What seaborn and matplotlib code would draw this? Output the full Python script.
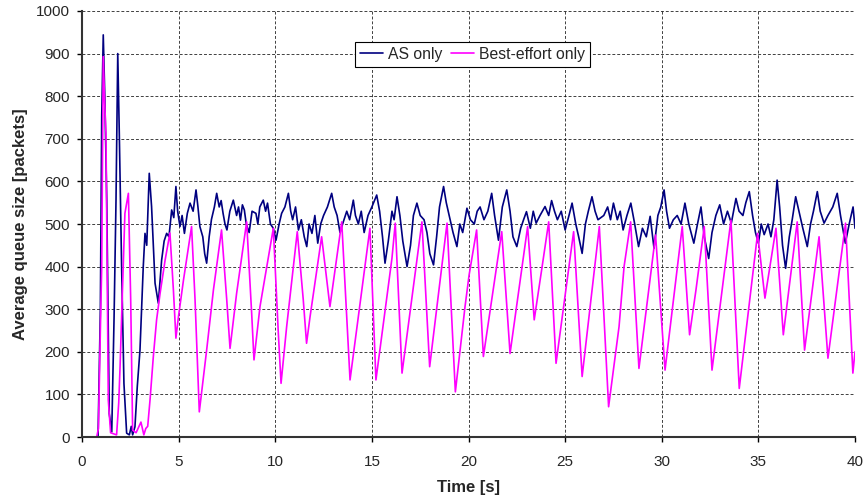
import numpy as np
import pandas as pd
import seaborn as sns
import matplotlib.pyplot as plt

# ---- data ----
as_time = [0.83, 0.95, 1.02, 1.10, 1.18, 1.28, 1.41, 1.54, 1.66, 1.76, 1.85, 1.93, 2.05,
           2.17, 2.31, 2.45, 2.55, 2.62, 2.74, 2.86, 3.0, 3.17, 3.26, 3.35, 3.48, 3.6, 3.78,
           3.95, 4.12, 4.25, 4.38, 4.5, 4.64, 4.75, 4.86, 4.95, 5.07, 5.18, 5.3, 5.45, 5.59,
           5.75, 5.90, 6.0, 6.1, 6.25, 6.35, 6.45, 6.58, 6.7, 6.85, 6.97, 7.1, 7.2, 7.3,
           7.4, 7.5, 7.65, 7.83, 8.0, 8.1, 8.2, 8.3, 8.4, 8.5, 8.65, 8.8, 9.0, 9.1,
           9.2, 9.38, 9.5, 9.6, 9.75, 9.9, 10.04, 10.2, 10.33, 10.5, 10.68, 10.8, 10.9, 11.05,
           11.2, 11.35, 11.5, 11.63, 11.75, 11.9, 12.05, 12.2, 12.35, 12.5, 12.7, 12.92, 13.05,
           13.2, 13.35, 13.5, 13.7, 13.85, 14.04, 14.15, 14.3, 14.45, 14.6, 14.8, 15.0, 15.25,
           15.4, 15.55, 15.68, 15.85, 16.04, 16.15, 16.30, 16.45, 16.6, 16.82, 17.0, 17.15,
           17.33, 17.5, 17.7, 17.85, 18.0, 18.19, 18.35, 18.5, 18.71, 18.85, 19.0, 19.2,
           19.40, 19.55, 19.7, 19.92, 20.1, 20.3, 20.45, 20.6, 20.8, 21.0, 21.2, 21.35,
           21.55, 21.75, 21.98, 22.15, 22.3, 22.50, 22.7, 22.85, 23.0, 23.2, 23.35, 23.5,
           23.7, 23.96, 24.15, 24.3, 24.45, 24.6, 24.8, 25.0, 25.2, 25.36, 25.55, 25.7,
           25.88, 26.05, 26.2, 26.39, 26.55, 26.7, 27.0, 27.2, 27.35, 27.5, 27.7, 27.85,
           28.0, 28.2, 28.4, 28.6, 28.8, 29.0, 29.2, 29.4, 29.6, 29.8, 29.95, 30.12,
           30.25, 30.4, 30.6, 30.8, 31.0, 31.2, 31.4, 31.66, 31.85, 32.03, 32.2, 32.43,
           32.6, 32.8, 33.0, 33.2, 33.4, 33.6, 33.84, 34.0, 34.2, 34.35, 34.53, 34.7,
           34.85, 35.0, 35.15, 35.3, 35.5, 35.65, 35.8, 35.97, 36.1, 36.25, 36.41, 36.6,
           36.75, 36.93, 37.1, 37.3, 37.53, 37.7, 37.85, 38.05, 38.2, 38.4, 38.6, 38.85,
           39.08, 39.25, 39.5, 39.7, 39.9, 40.0]
as_queue = [0, 300, 752, 944, 800, 556, 55, 12, 282, 556, 900, 713, 400,
            126, 9, 5, 25, 5, 24, 118, 204, 400, 478, 450, 619, 541, 361,
            314, 415, 460, 478, 470, 533, 515, 588, 530, 494, 520, 478, 525, 549,
            530, 580, 540, 494, 470, 430, 408, 470, 511, 540, 572, 540, 555, 525,
            500, 486, 530, 556, 520, 540, 509, 545, 533, 500, 480, 530, 525, 500,
            540, 556, 530, 549, 500, 490, 462, 500, 525, 540, 572, 530, 510, 540,
            486, 510, 470, 447, 500, 478, 520, 455, 500, 520, 540, 572, 540,
            520, 480, 502, 530, 510, 556, 520, 500, 530, 480, 520, 540, 568,
            530, 470, 408, 460, 530, 510, 564, 520, 460, 400, 450, 520,
            549, 520, 510, 480, 430, 404, 470, 540, 588, 550, 520, 480,
            447, 500, 480, 537, 510, 500, 530, 540, 510, 530, 572, 520,
            462, 540, 580, 530, 470, 447, 490, 510, 529, 490, 530, 502,
            520, 541, 520, 555, 530, 510, 530, 486, 520, 549, 500, 470,
            431, 500, 530, 564, 530, 510, 520, 540, 510, 549, 510, 530,
            486, 520, 549, 500, 447, 490, 470, 518, 443, 520, 540, 580,
            530, 490, 510, 520, 500, 549, 500, 455, 500, 540, 470, 419,
            480, 520, 545, 500, 530, 502, 560, 530, 520, 550, 576, 520,
            480, 455, 500, 475, 500, 470, 510, 603, 540, 450, 396, 470,
            510, 564, 530, 490, 447, 500, 530, 576, 530, 502, 520, 540,
            572, 520, 455, 500, 540, 490]

be_time = [0.76, 0.85, 0.95, 1.02, 1.10, 1.17, 1.24, 1.36, 1.48, 1.79, 1.90, 1.97, 2.05,
           2.22, 2.40, 2.52, 2.62, 2.80, 3.05, 3.20, 3.30, 3.40, 3.52, 3.69, 3.86, 4.04,
           4.30, 4.55, 4.73, 4.86, 4.99, 5.25, 5.67, 5.85, 6.07, 6.45, 6.80, 7.22, 7.49,
           7.66, 8.0, 8.52, 8.78, 8.90, 9.21, 9.90, 10.16, 10.30, 10.59, 11.14, 11.45, 11.62,
           11.80, 12.40, 12.83, 13.44, 13.87, 14.90, 15.21, 15.78, 16.04, 16.21, 16.56,
           17.59, 17.99, 18.89, 19.32, 19.82, 20.03, 20.42, 20.77, 21.72, 22.15, 23.06,
           23.40, 23.81, 24.15, 24.53, 25.44, 25.88, 26.77, 27.25, 27.79, 28.05, 28.39,
           28.82, 29.68, 30.17, 31.06, 31.44, 31.77, 32.20, 32.60, 33.58, 34.01, 34.96,
           35.34, 35.91, 36.29, 37.01, 37.39, 38.14, 38.60, 39.51, 39.89, 40.0]
be_queue = [0, 20, 250, 400, 893, 790, 713, 87, 10, 5, 80, 165, 282,
            525, 572, 322, 16, 10, 35, 5, 20, 25, 87, 188, 275, 337,
            415, 479, 345, 232, 282, 368, 494, 322, 59, 204, 345, 486, 322,
            208, 337, 505, 290, 181, 306, 490, 243, 126, 259, 482, 322, 220,
            282, 470, 306, 505, 134, 490, 134, 330, 420, 502, 150,
            505, 165, 502, 106, 306, 380, 486, 189, 482, 196, 494,
            275, 400, 505, 173, 482, 142, 494, 71, 259, 400, 505,
            161, 474, 157, 494, 240, 345, 494, 157, 509, 114, 478,
            326, 490, 240, 505, 204, 470, 185, 502, 150, 200]

x_ticks = [0, 5, 10, 15, 20, 25, 30, 35, 40]
y_ticks = [0, 100, 200, 300, 400, 500, 600, 700, 800, 900, 1000]

df_as = pd.DataFrame({"Time": as_time, "Queue": as_queue})
df_be = pd.DataFrame({"Time": be_time, "Queue": be_queue})

sns.set_theme(style="white")
plt.rcParams['font.family'] = ['Liberation Sans', 'DejaVu Sans']

fig = plt.figure(figsize=(8.63, 4.98), dpi=100)
ax = fig.add_axes([82 / 863, 61 / 498, 773 / 863, 426 / 498])

sns.lineplot(data=df_as, x="Time", y="Queue", ax=ax, color="#000080", lw=1.2,
             sort=False, estimator=None, label="AS only", zorder=2)
sns.lineplot(data=df_be, x="Time", y="Queue", ax=ax, color="#FF00FF", lw=1.2,
             sort=False, estimator=None, label="Best-effort only", zorder=3)

ax.set_xlim(0, 40)
ax.set_ylim(0, 1000)
ax.set_xticks(x_ticks)
ax.set_yticks(y_ticks)
ax.tick_params(axis="both", labelsize=11, length=3.6, width=1, color="black",
               direction="out", bottom=True, left=True)
ax.tick_params(axis="x", pad=9)
ax.tick_params(axis="y", pad=5)
ax.grid(True, color="black", linestyle=(0, (3, 2)), linewidth=0.7, alpha=0.75)
ax.set_axisbelow(True)
for side in ["top", "right"]:
    ax.spines[side].set_visible(False)
for side in ["left", "bottom"]:
    ax.spines[side].set_color("#333333")
    ax.spines[side].set_linewidth(1.5)
    ax.spines[side].set_zorder(4)

ax.set_xlabel("Time [s]", fontsize=12, fontweight="bold", labelpad=8)
ax.set_ylabel("Average queue size [packets]", fontsize=12, fontweight="bold", labelpad=6)

leg = ax.legend(loc="upper center", bbox_to_anchor=(0.505, 0.927), ncol=2,
                frameon=True, fancybox=False, fontsize=11.3, handlelength=1.5,
                handletextpad=0.3, columnspacing=0.55, borderpad=0.3,
                borderaxespad=0)
leg.get_frame().set_edgecolor("black")
leg.get_frame().set_linewidth(0.8)
leg.get_frame().set_facecolor("white")
leg.get_frame().set_alpha(1)

fig.savefig("out.png", dpi=100)
